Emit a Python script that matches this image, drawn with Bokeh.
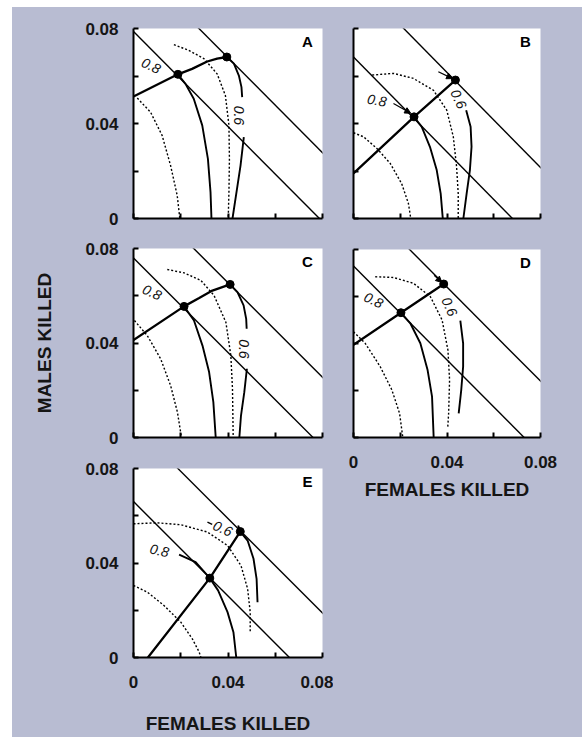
import math
from bokeh.plotting import figure
from bokeh.layouts import row, column
from bokeh.models import Range1d, FixedTicker, CustomJSTickFormatter, Arrow, NormalHead, Spacer
from bokeh.core.properties import value
from bokeh.embed import file_html
from bokeh.resources import INLINE

BG = "#b8bcd2"
FONT = "Liberation Sans"
AX_MAX = 0.08
TICKS_MAJOR = [0.0, 0.04, 0.08]
TICKS_MINOR = [0.02, 0.06]
X_TITLE = "FEMALES KILLED"
Y_TITLE = "MALES KILLED"

# ---------------- Panel A ----------------
A_low = 0.0787
A_high = 0.1077
A_dots_x = [0.0188, 0.0395]
A_dots_y = [0.0607, 0.0680]
A_path_x = [0.0, 0.0093, 0.0188, 0.0248, 0.0312, 0.0354, 0.0395]
A_path_y = [0.0514, 0.0560, 0.0607, 0.0630, 0.0661, 0.0673, 0.0680]
A_iso8_x = [0.0188, 0.0220, 0.0255, 0.0291, 0.0315, 0.0326, 0.0330]
A_iso8_y = [0.0607, 0.0567, 0.0504, 0.0392, 0.0251, 0.0111, 0.0]
A_iso6a_x = [0.0395, 0.0425, 0.0446, 0.0457, 0.0460]
A_iso6a_y = [0.0680, 0.0652, 0.0602, 0.0553, 0.0511]
A_iso6b_x = [0.0467, 0.0453, 0.0436, 0.0419]
A_iso6b_y = [0.0343, 0.0223, 0.0111, 0.0]
A_din_x = [0.0016, 0.0072, 0.0121, 0.0157, 0.0185, 0.0196]
A_din_y = [0.0507, 0.0448, 0.0350, 0.0223, 0.0097, 0.0]
A_dout_x = [0.0171, 0.0234, 0.0298, 0.0354, 0.0389, 0.0404, 0.0406, 0.0404, 0.0401]
A_dout_y = [0.0732, 0.0708, 0.0673, 0.0609, 0.0518, 0.0392, 0.0251, 0.0111, 0.0]
A_lab_x = [0.0075, 0.0446]
A_lab_y = [0.0644, 0.0434]
A_lab_text = ["0.8", "0.6"]
A_lab_deg = [-25, -90]

# ---------------- Panel B ----------------
B_low = 0.0680
B_high = 0.1015
B_dots_x = [0.0259, 0.0436]
B_dots_y = [0.0428, 0.0583]
B_path_x = [0.0, 0.0259, 0.0436]
B_path_y = [0.0190, 0.0428, 0.0583]
B_iso8_x = [0.0259, 0.0292, 0.0327, 0.0356, 0.0373, 0.0382]
B_iso8_y = [0.0428, 0.0386, 0.0302, 0.0204, 0.0105, 0.0]
B_iso6_x = [0.0482, 0.0501, 0.0505, 0.0498, 0.0484, 0.0470]
B_iso6_y = [0.0456, 0.0386, 0.0302, 0.0204, 0.0105, 0.0]
B_din_x = [0.0, 0.0043, 0.0100, 0.0157, 0.0206, 0.0235, 0.0245]
B_din_y = [0.0361, 0.0344, 0.0295, 0.0232, 0.0147, 0.0063, 0.0]
B_dout_x = [0.0080, 0.0171, 0.0256, 0.0342, 0.0399, 0.0427, 0.0441, 0.0448, 0.0448]
B_dout_y = [0.0604, 0.0611, 0.0590, 0.0540, 0.0456, 0.0344, 0.0218, 0.0105, 0.0]
B_lab_x = [0.0100, 0.0450]
B_lab_y = [0.0498, 0.0503]
B_lab_text = ["0.8", "0.6"]
B_lab_deg = [-10, -65]
B_arr_x0 = [0.0171, 0.0363]
B_arr_y0 = [0.0484, 0.0618]
B_arr_x1 = [0.0245, 0.0424]
B_arr_y1 = [0.0443, 0.0589]

# ---------------- Panel C ----------------
C_low = 0.0760
C_high = 0.1055
C_dots_x = [0.0214, 0.0409]
C_dots_y = [0.0555, 0.0648]
C_path_x = [0.0, 0.0214, 0.0278, 0.0334, 0.0409]
C_path_y = [0.0413, 0.0555, 0.0590, 0.0622, 0.0648]
C_iso8_x = [0.0214, 0.0256, 0.0292, 0.0320, 0.0338, 0.0348]
C_iso8_y = [0.0555, 0.0495, 0.0389, 0.0277, 0.0150, 0.0]
C_iso6a_x = [0.0409, 0.0440, 0.0466, 0.0477, 0.0479]
C_iso6a_y = [0.0648, 0.0615, 0.0559, 0.0502, 0.0460]
C_iso6b_x = [0.0480, 0.0469, 0.0455, 0.0448]
C_iso6b_y = [0.0291, 0.0192, 0.0093, 0.0]
C_din_x = [0.0004, 0.0058, 0.0115, 0.0157, 0.0186, 0.0203]
C_din_y = [0.0495, 0.0432, 0.0333, 0.0220, 0.0107, 0.0]
C_dout_x = [0.0143, 0.0214, 0.0285, 0.0341, 0.0391, 0.0412, 0.0419, 0.0422]
C_dout_y = [0.0711, 0.0697, 0.0665, 0.0601, 0.0488, 0.0347, 0.0206, 0.0]
C_lab_x = [0.0079, 0.0469]
C_lab_y = [0.0615, 0.0375]
C_lab_text = ["0.8", "0.6"]
C_lab_deg = [-25, -90]

# ---------------- Panel D ----------------
D_low = 0.0730
D_high = 0.1040
D_dots_x = [0.0203, 0.0386]
D_dots_y = [0.0531, 0.0653]
D_path_x = [0.0, 0.0203, 0.0386]
D_path_y = [0.0394, 0.0531, 0.0653]
D_iso8_x = [0.0203, 0.0243, 0.0286, 0.0317, 0.0336, 0.0343]
D_iso8_y = [0.0531, 0.0486, 0.0401, 0.0287, 0.0174, 0.0]
D_iso6_x = [0.0457, 0.0469, 0.0469, 0.0461, 0.0450]
D_iso6_y = [0.0497, 0.0401, 0.0302, 0.0203, 0.0103]
D_din_x = [0.0, 0.0050, 0.0114, 0.0164, 0.0197, 0.0211]
D_din_y = [0.0450, 0.0401, 0.0302, 0.0203, 0.0103, 0.0]
D_dout_x = [0.0093, 0.0171, 0.0257, 0.0329, 0.0379, 0.0404, 0.0411, 0.0407, 0.0403]
D_dout_y = [0.0684, 0.0681, 0.0656, 0.0599, 0.0500, 0.0372, 0.0245, 0.0103, 0.0040]
D_lab_x = [0.0086, 0.0411]
D_lab_y = [0.0585, 0.0557]
D_lab_text = ["0.8", "0.6"]
D_lab_deg = [-25, -65]
D_arr_x0 = [0.0345]
D_arr_y0 = [0.0690]
D_arr_x1 = [0.0378]
D_arr_y1 = [0.0660]

# ---------------- Panel E ----------------
E_low = 0.0660
E_high = 0.0988
E_dots_x = [0.0323, 0.0452]
E_dots_y = [0.0336, 0.0533]
E_path_x = [0.0061, 0.0323, 0.0452]
E_path_y = [0.0, 0.0336, 0.0533]
E_iso8_x = [0.0193, 0.0263, 0.0323, 0.0358, 0.0398, 0.0423, 0.0435]
E_iso8_y = [0.0435, 0.0404, 0.0336, 0.0284, 0.0192, 0.0107, 0.0]
E_iso6_x = [0.0443, 0.0452, 0.0483, 0.0508, 0.0521, 0.0525]
E_iso6_y = [0.0559, 0.0533, 0.0495, 0.0418, 0.0333, 0.0234]
E_din_x = [0.0, 0.0058, 0.0129, 0.0200, 0.0249, 0.0278, 0.0285]
E_din_y = [0.0305, 0.0277, 0.0220, 0.0150, 0.0079, 0.0023, 0.0]
E_dout_x = [0.0, 0.0101, 0.0200, 0.0313, 0.0398, 0.0455, 0.0483, 0.0494, 0.0494]
E_dout_y = [0.0566, 0.0570, 0.0562, 0.0531, 0.0474, 0.0389, 0.0291, 0.0192, 0.0107]
E_lab_x = [0.0110, 0.0378]
E_lab_y = [0.0453, 0.0546]
E_lab_text = ["0.8", "0.6"]
E_lab_deg = [-12, -25]
E_lead_x = [0.0313, 0.0333]
E_lead_y = [0.0573, 0.0563]

PANELS = {
    "A": dict(low=A_low, high=A_high, dots=(A_dots_x, A_dots_y), path=(A_path_x, A_path_y),
              solid=[(A_iso8_x, A_iso8_y), (A_iso6a_x, A_iso6a_y), (A_iso6b_x, A_iso6b_y)],
              dotted=[(A_din_x, A_din_y), (A_dout_x, A_dout_y)],
              labels=(A_lab_x, A_lab_y, A_lab_text, A_lab_deg)),
    "B": dict(low=B_low, high=B_high, dots=(B_dots_x, B_dots_y), path=(B_path_x, B_path_y),
              solid=[(B_iso8_x, B_iso8_y), (B_iso6_x, B_iso6_y)],
              dotted=[(B_din_x, B_din_y), (B_dout_x, B_dout_y)],
              labels=(B_lab_x, B_lab_y, B_lab_text, B_lab_deg),
              arrows=(B_arr_x0, B_arr_y0, B_arr_x1, B_arr_y1)),
    "C": dict(low=C_low, high=C_high, dots=(C_dots_x, C_dots_y), path=(C_path_x, C_path_y),
              solid=[(C_iso8_x, C_iso8_y), (C_iso6a_x, C_iso6a_y), (C_iso6b_x, C_iso6b_y)],
              dotted=[(C_din_x, C_din_y), (C_dout_x, C_dout_y)],
              labels=(C_lab_x, C_lab_y, C_lab_text, C_lab_deg)),
    "D": dict(low=D_low, high=D_high, dots=(D_dots_x, D_dots_y), path=(D_path_x, D_path_y),
              solid=[(D_iso8_x, D_iso8_y), (D_iso6_x, D_iso6_y)],
              dotted=[(D_din_x, D_din_y), (D_dout_x, D_dout_y)],
              labels=(D_lab_x, D_lab_y, D_lab_text, D_lab_deg),
              arrows=(D_arr_x0, D_arr_y0, D_arr_x1, D_arr_y1)),
    "E": dict(low=E_low, high=E_high, dots=(E_dots_x, E_dots_y), path=(E_path_x, E_path_y),
              solid=[(E_iso8_x, E_iso8_y), (E_iso6_x, E_iso6_y)],
              dotted=[(E_din_x, E_din_y), (E_dout_x, E_dout_y)],
              labels=(E_lab_x, E_lab_y, E_lab_text, E_lab_deg),
              lead=(E_lead_x, E_lead_y)),
}

BG_STYLE = {"background-color": BG}


def style_axis(ax, show_labels, title=None, title_standoff=0, label_standoff=12):
    ax.ticker = FixedTicker(ticks=TICKS_MAJOR, minor_ticks=TICKS_MINOR)
    ax.axis_line_color = "black"
    ax.axis_line_width = 2
    ax.major_tick_in = 5
    ax.major_tick_out = 0
    ax.minor_tick_in = 5
    ax.minor_tick_out = 0
    ax.major_tick_line_width = 2
    ax.minor_tick_line_width = 2
    ax.major_tick_line_color = "black"
    ax.minor_tick_line_color = "black"
    if show_labels:
        ax.formatter = CustomJSTickFormatter(code="return tick == 0 ? '0' : tick.toFixed(2);")
        ax.major_label_text_font = FONT
        ax.major_label_text_font_size = "17px"
        ax.major_label_text_font_style = "bold"
        ax.major_label_text_color = "#151515"
        ax.major_label_standoff = label_standoff
    else:
        ax.formatter = CustomJSTickFormatter(code="return '';")
        ax.major_label_text_font_size = "0px"
        ax.major_label_standoff = 0
    if title:
        ax.axis_label = title
        ax.axis_label_text_font = FONT
        ax.axis_label_text_font_size = "19px"
        ax.axis_label_text_font_style = "bold"
        ax.axis_label_text_color = "#151515"
        ax.axis_label_standoff = title_standoff


def make_panel(name, left, frame_w, right, top, frame_h, bottom,
               xlab=False, ylab=False, xtitle=None, ytitle=None,
               xtitle_standoff=0, ytitle_standoff=0):
    P = PANELS[name]
    p = figure(frame_width=frame_w, frame_height=frame_h,
               min_border_left=left, min_border_right=right,
               min_border_top=top, min_border_bottom=bottom,
               x_range=Range1d(0, AX_MAX), y_range=Range1d(0, AX_MAX),
               toolbar_location=None, output_backend="svg",
               background_fill_color="white", border_fill_color=BG,
               outline_line_color=None, styles=BG_STYLE)
    p.grid.visible = False
    style_axis(p.below[0], xlab, xtitle, xtitle_standoff, 18)
    style_axis(p.left[0], ylab, ytitle, ytitle_standoff, 15)

    for s in (P["low"], P["high"]):
        p.line([0, s], [s, 0], line_color="black", line_width=1.4)
    for xs, ys in P["dotted"]:
        p.line(xs, ys, line_color="black", line_width=1.4, line_dash="2 2")
    for xs, ys in P["solid"]:
        p.line(xs, ys, line_color="black", line_width=1.9)
    p.line(P["path"][0], P["path"][1], line_color="black", line_width=2.3)
    p.scatter(P["dots"][0], P["dots"][1], size=8, color="black")

    lx, ly, lt, ld = P["labels"]
    p.text(x=lx, y=ly, text=lt, angle=[math.radians(d) for d in ld],
           text_font=value(FONT), text_font_size="14px", text_font_style="italic",
           text_align="center", text_baseline="middle", text_color="#111111")
    if "arrows" in P:
        x0, y0, x1, y1 = P["arrows"]
        for a, b, c, d in zip(x0, y0, x1, y1):
            p.add_layout(Arrow(end=NormalHead(size=6, fill_color="black", line_color="black"),
                               x_start=a, y_start=b, x_end=c, y_end=d,
                               line_color="black", line_width=1.2))
    if "lead" in P:
        p.line(P["lead"][0], P["lead"][1], line_color="black", line_width=1.4)

    p.text(x=[AX_MAX * 0.92], y=[AX_MAX * 0.93], text=[name],
           text_font=value(FONT), text_font_size="15px", text_font_style="bold",
           text_align="center", text_baseline="middle", text_color="black")
    return p


pA = make_panel("A", 121, 189, 11, 21, 190, 20, ylab=True)
pC = make_panel("C", 121, 189, 11, 10, 189, 21, ylab=True, ytitle=Y_TITLE, ytitle_standoff=27)
pE = make_panel("E", 121, 189, 11, 10, 189, 80, xlab=True, ylab=True,
                xtitle=X_TITLE, xtitle_standoff=22)
pB = make_panel("B", 20, 187, 42, 21, 190, 20)
pD = make_panel("D", 20, 187, 42, 11, 188, 300, xlab=True,
                xtitle=X_TITLE, xtitle_standoff=8)

main = row(column(pA, pC, pE, spacing=0, styles=BG_STYLE),
           column(pB, pD, spacing=0, styles=BG_STYLE),
           spacing=0, styles=BG_STYLE)
layout = column(Spacer(height=7), row(Spacer(width=12), main, spacing=0), spacing=0)

open("out.html", "w").write(file_html(layout, INLINE))
